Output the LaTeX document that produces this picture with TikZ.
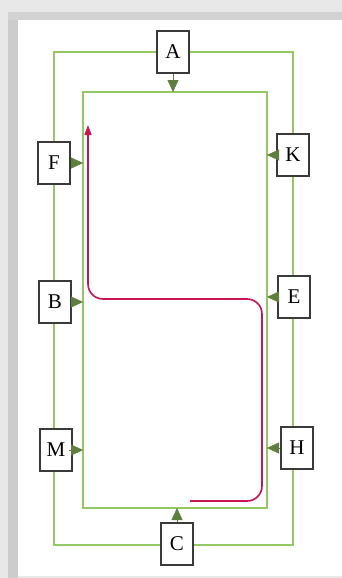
\documentclass[tikz,border=0pt]{standalone}
\usepackage{fontspec}
\setmainfont{Liberation Serif}
\usetikzlibrary{arrows.meta}
\definecolor{ln}{HTML}{93C865}
\definecolor{tipc}{HTML}{5E7E3E}
\definecolor{rd}{HTML}{C8174F}
\definecolor{bx}{HTML}{3A3A3A}
\begin{document}
\begin{tikzpicture}[x=1pt,y=-1pt,
  lbox/.style={draw=bx, line width=1.3pt, fill=white, minimum width=32pt, minimum height=42pt, inner sep=0pt, font=\fontsize{21}{21}\selectfont},
  route/.style={ln, line width=1.8pt},
  marker/.style={-{Triangle[length=12pt,width=11pt]}, tipc, line width=0.4pt},
  redpath/.style={rd, line width=1.6pt, rounded corners=15pt, -{Triangle[length=10pt,width=7pt]}}]
% background (photo edge)
\fill[gray!18] (0,0) rectangle (342,578);
\fill[gray!40] (8,12) rectangle (18,578);
\fill[gray!35] (8,12) rectangle (342,20);
\fill[white] (18,20) rectangle (342,576);
\useasboundingbox (0,0) rectangle (342,578);
% rectangles
\coordinate (otl) at (54,52);
\coordinate (obr) at (293,545);
\coordinate (itl) at (83,92);
\coordinate (ibr) at (267,508);
\draw[route] (otl) rectangle (obr);
\draw[route] (itl) rectangle (ibr);
% boxes
\node[lbox] (A) at (173,52) {A};
\node[lbox] (F) at (54,163) {F};
\node[lbox] (K) at (293,155) {K};
\node[lbox] (B) at (55,302) {B};
\node[lbox] (E) at (294,297) {E};
\node[lbox] (M) at (56,450) {M};
\node[lbox] (H) at (297,448) {H};
\node[lbox] (C) at (177,544) {C};
% markers
\draw[marker] (A.south) -- (A.south |- itl);
\draw[marker] (F.east) -- (F.east -| itl);
\draw[marker] (B.east) -- (B.east -| itl);
\draw[marker] ([xshift=-4pt]M.east) -- (M.east -| itl);
\draw[marker] (K.west) -- (K.west -| ibr);
\draw[marker] (E.west) -- (E.west -| ibr);
\draw[marker] (H.west) -- (H.west -| ibr);
\draw[marker] (C.north) -- (C.north |- ibr);
% red route
\coordinate (r0) at (190,501);
\coordinate (r1) at (262,501);
\coordinate (r2) at (262,299);
\coordinate (r3) at (88,299);
\coordinate (r4) at (88,125);
\draw[redpath] (r0) -- (r1) -- (r2) -- (r3) -- (r4);
\end{tikzpicture}
\end{document}
